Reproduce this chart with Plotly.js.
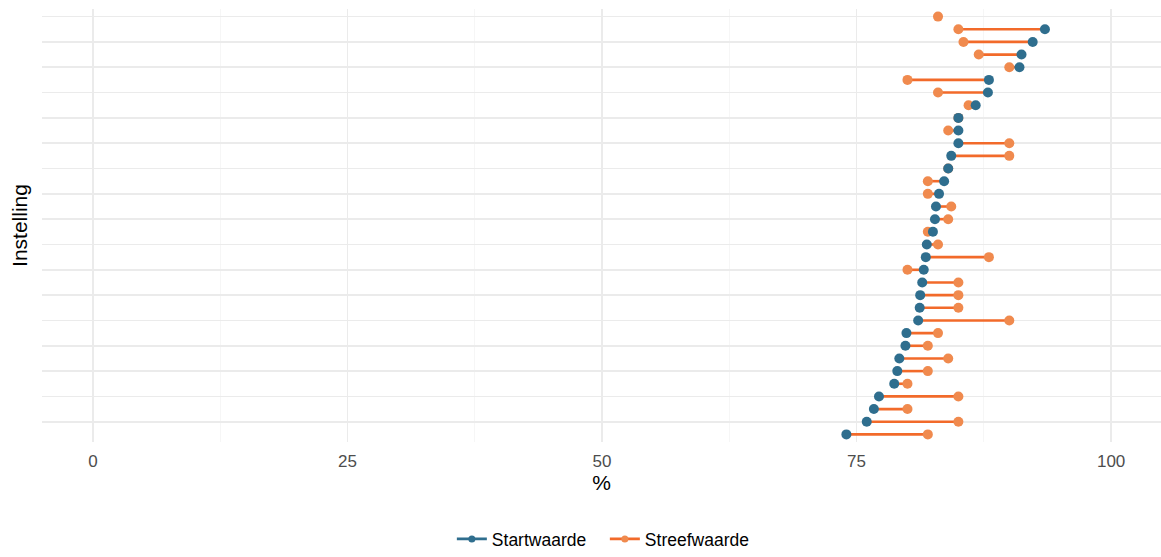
<!DOCTYPE html>
<html>
<head>
<meta charset="utf-8">
<script src="https://cdn.plot.ly/plotly-3.0.1.min.js"></script>
<style>html,body{margin:0;padding:0;background:#fff;}#chart{width:1161px;height:557px;}</style>
</head>
<body>
<div id="chart"></div>
<script>
// Rows from top to bottom
const instellingen = Array.from({length: 34}, (_, i) => 'Instelling ' + (i + 1));
const startwaarde = [null, 93.5, 92.3, 91.2, 91.0, 88.0, 87.9, 86.7, 85.0, 85.0, 85.0, 84.3,
  84.0, 83.6, 83.1, 82.8, 82.7, 82.5, 81.9, 81.8, 81.6, 81.45, 81.25, 81.2, 81.05,
  79.9, 79.8, 79.2, 79.0, 78.7, 77.2, 76.7, 76.0, 74.0];
const streefwaarde = [83, 85, 85.5, 87, 90, 80, 83, 86, 85, 84, 90, 90,
  84, 82, 82, 84.3, 84, 82, 83, 88, 80, 85, 85, 85, 90,
  83, 82, 84, 82, 80, 85, 80, 85, 82];
const xTicks = [0, 25, 50, 75, 100];
const xMinorTicks = [12.5, 37.5, 62.5, 87.5];

const blue = '#2f6e8e';
const orangeLine = '#f26a2a';
const orangeDot = '#f08a4e';

const segX = [], segY = [];
instellingen.forEach((c, i) => {
  if (startwaarde[i] !== null && streefwaarde[i] !== null) {
    segX.push(startwaarde[i], streefwaarde[i], null);
    segY.push(c, c, null);
  }
});

const traces = [
  {x: segX, y: segY, type: 'scatter', mode: 'lines', line: {color: orangeLine, width: 2.6},
   showlegend: false, hoverinfo: 'skip'},
  {x: streefwaarde, y: instellingen, type: 'scatter', mode: 'markers',
   marker: {color: orangeDot, size: 10}, showlegend: false, name: 'Streefwaarde'},
  {x: startwaarde, y: instellingen, type: 'scatter', mode: 'markers',
   marker: {color: blue, size: 10}, showlegend: false, name: 'Startwaarde'},
  {x: [null], y: [null], type: 'scatter', mode: 'lines+markers', name: 'Startwaarde',
   line: {color: blue, width: 2.6}, marker: {color: blue, size: 7}},
  {x: [null], y: [null], type: 'scatter', mode: 'lines+markers', name: 'Streefwaarde',
   line: {color: orangeLine, width: 2.6}, marker: {color: orangeDot, size: 7}}
];

const layout = {
  width: 1161, height: 557,
  margin: {l: 42, r: 0, t: 9, b: 115, autoexpand: false},
  paper_bgcolor: '#fff', plot_bgcolor: '#fff',
  font: {family: 'Liberation Sans, Arial, sans-serif', color: '#4d4d4d', size: 17},
  showlegend: true,
  xaxis: {
    range: [-5, 104.9],
    automargin: false,
    tickvals: xTicks, ticktext: xTicks.map(String),
    showgrid: true, gridcolor: '#ebebeb', gridwidth: 1.6,
    minor: {tickvals: xMinorTicks, showgrid: true, gridcolor: '#f4f4f4', gridwidth: 0.8, ticks: ''},
    zeroline: false, showline: false, ticks: '',
    ticklabelstandoff: 7,
    tickfont: {size: 17, color: '#4d4d4d'},
    title: {text: '%', font: {size: 21, color: '#000'}, standoff: 4}
  },
  yaxis: {
    type: 'category',
    automargin: false,
    categoryorder: 'array', categoryarray: instellingen,
    range: [33.6, -0.6],
    showticklabels: false, ticks: '',
    showgrid: true, gridcolor: '#ebebeb', gridwidth: 1.6,
    zeroline: false, showline: false,
    title: {text: 'Instelling', font: {size: 21, color: '#000'}, standoff: 7}
  },
  legend: {
    orientation: 'h', x: 0.503, xanchor: 'center',
    yref: 'container', y: 0, yanchor: 'bottom',
    font: {size: 17.5, color: '#000'}, itemwidth: 30, entrywidth: 108, bgcolor: 'rgba(0,0,0,0)'
  },
  hovermode: false
};

Plotly.newPlot('chart', traces, layout, {displayModeBar: false, staticPlot: true});
</script>
</body>
</html>
